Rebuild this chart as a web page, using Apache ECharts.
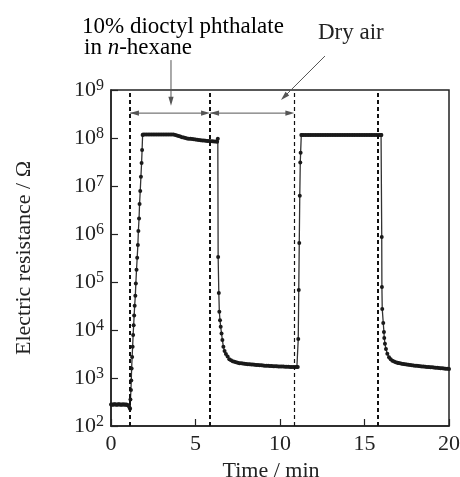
<!DOCTYPE html>
<html>
<head>
<meta charset="utf-8">
<script src="https://cdn.jsdelivr.net/npm/echarts@6/dist/echarts.min.js"></script>
<style>
  html, body { margin: 0; padding: 0; background: #fff; }
  #chart { width: 460px; height: 477px; }
</style>
</head>
<body>
<div id="chart"></div>
<script>
// [time (min), electric resistance (ohm)]
var baseline = [[0,280],[0.05,282],[0.1,278],[0.15,280],[0.2,283],[0.25,279],[0.3,281],[0.35,278],[0.4,280],[0.45,284],
  [0.5,279],[0.55,281],[0.6,277],[0.65,280],[0.7,282],[0.75,279],[0.8,281],[0.85,278],[0.9,280],[0.95,276],
  [1.0,272],[1.05,262],[1.1,240],[1.13,228]]
var rise1 = [[1.15,355],[1.18,560],[1.2,890],[1.22,1580],[1.25,2750],[1.28,4470],[1.31,7900],[1.34,12600],[1.37,20000],
  [1.4,32000],[1.44,52000],[1.47,93000],[1.51,1.8e5],[1.55,3.2e5],[1.59,5.9e5],[1.62,1.15e6],[1.66,2.1e6],[1.69,4.2e6],
  [1.73,7.9e6],[1.77,1.55e7],[1.81,3.0e7],[1.84,5.6e7],[1.87,1.15e8]]
var plateau1 = [[1.9,1.18e8],[2.0,1.18e8],[2.1,1.18e8],[2.2,1.18e8],[2.3,1.18e8],[2.4,1.18e8],[2.5,1.18e8],[2.6,1.18e8],
  [2.7,1.18e8],[2.8,1.18e8],[2.9,1.18e8],[3.0,1.18e8],[3.1,1.18e8],[3.2,1.18e8],[3.3,1.18e8],[3.4,1.18e8],[3.5,1.18e8],
  [3.6,1.18e8],[3.7,1.18e8],[3.8,1.16e8],[3.9,1.13e8],[4.0,1.1e8],[4.1,1.07e8],[4.2,1.04e8],[4.3,1.02e8],[4.4,1.0e8],
  [4.5,9.8e7],[4.6,9.7e7],[4.7,9.6e7],[4.8,9.5e7],[4.9,9.4e7],[5.0,9.3e7],[5.1,9.2e7],[5.2,9.1e7],[5.3,9.0e7],
  [5.4,8.9e7],[5.5,8.9e7],[5.6,8.8e7],[5.7,8.7e7],[5.8,8.7e7],[5.9,8.6e7],[6.0,8.6e7],[6.1,8.5e7],[6.2,8.5e7],
  [6.28,8.4e7],[6.32,9.6e7]]
var drop1 = [[6.34,3.3e5],[6.38,5.9e4],[6.41,2.4e4],[6.45,1.6e4],[6.49,1.17e4],[6.54,8500],[6.59,6200],[6.65,4470],
  [6.72,3630],[6.8,3160],[6.9,2820],[7.0,2450],[7.1,2340],[7.2,2240],[7.3,2190],[7.4,2140],[7.5,2090],[7.6,2040],
  [7.7,2020],[7.8,2000],[7.9,1980],[8.0,1950]]
var tail1 = [[8.1,1940],[8.2,1930],[8.3,1915],[8.4,1900],[8.5,1880],[8.6,1870],[8.7,1860],[8.8,1850],[8.9,1835],
  [9.0,1820],[9.1,1810],[9.2,1800],[9.3,1790],[9.4,1780],[9.5,1770],[9.6,1765],[9.7,1760],[9.8,1750],[9.9,1745],
  [10.0,1740],[10.1,1735],[10.2,1730],[10.3,1725],[10.4,1715],[10.5,1710],[10.6,1705],[10.7,1700],[10.8,1695],
  [10.9,1690],[11.0,1690],[11.05,1690]]
var rise2 = [[11.08,6500],[11.11,6.8e4],[11.14,6.5e5],[11.17,6.3e6],[11.2,3.1e7],[11.22,4.9e7],[11.26,1.15e8]]
var plateau2 = [[11.3,1.16e8],[11.4,1.16e8],[11.5,1.16e8],[11.6,1.16e8],[11.7,1.16e8],[11.8,1.16e8],[11.9,1.16e8],
  [12.0,1.16e8],[12.1,1.16e8],[12.2,1.16e8],[12.3,1.16e8],[12.4,1.16e8],[12.5,1.16e8],[12.6,1.16e8],[12.7,1.16e8],
  [12.8,1.16e8],[12.9,1.16e8],[13.0,1.16e8],[13.1,1.16e8],[13.2,1.16e8],[13.3,1.16e8],[13.4,1.16e8],[13.5,1.16e8],
  [13.6,1.16e8],[13.7,1.16e8],[13.8,1.16e8],[13.9,1.16e8],[14.0,1.16e8],[14.1,1.16e8],[14.2,1.16e8],[14.3,1.16e8],
  [14.4,1.16e8],[14.5,1.16e8],[14.6,1.16e8],[14.7,1.16e8],[14.8,1.16e8],[14.9,1.16e8],[15.0,1.16e8],[15.1,1.16e8],
  [15.2,1.16e8],[15.3,1.16e8],[15.4,1.16e8],[15.5,1.16e8],[15.6,1.16e8],[15.7,1.16e8],[15.8,1.16e8],[15.9,1.16e8],
  [15.98,1.16e8],[16.0,1.15e8]]
var drop2 = [[16.02,8.7e5],[16.03,7.9e4],[16.05,2.75e4],[16.11,1.4e4],[16.15,9100],[16.17,6800],[16.21,5200],
  [16.27,4000],[16.35,3200],[16.45,2700],[16.55,2450],[16.65,2300],[16.75,2200],[16.85,2140],[16.95,2090]]
var tail2 = [[17.0,2050],[17.1,2020],[17.2,1990],[17.3,1960],[17.4,1935],[17.5,1910],[17.6,1890],[17.7,1870],
  [17.8,1850],[17.9,1830],[18.0,1810],[18.1,1790],[18.2,1775],[18.3,1760],[18.4,1745],[18.5,1730],[18.6,1715],
  [18.7,1700],[18.8,1690],[18.9,1680],[19.0,1665],[19.1,1650],[19.2,1640],[19.3,1630],[19.4,1615],[19.5,1600],
  [19.6,1590],[19.7,1575],[19.8,1560],[19.9,1550],[20.0,1540]]

// gas switching times (dashed lines)
var switchTimes = [1.12, 5.86, 10.85, 15.78]
var switchWidths = [2, 2, 1.2, 2]
// double arrows marking the exposure periods: [from, to] in data coords
var periodArrows = [[[1.12, 3.3e8], [5.86, 3.3e8]], [[5.86, 3.3e8], [10.85, 3.3e8]]]
// pointer arrows from the two labels
var pointerArrows = [[[3.55, 4.2e9], [3.55, 4.7e8]], [[12.66, 5.1e9], [10.06, 6.2e8]]]

var serif = 'Liberation Serif'
var allData = [].concat(baseline, rise1, plateau1, drop1, tail1, rise2, plateau2, drop2, tail2)

var chart = echarts.init(document.getElementById('chart'))
var option = {
  animation: false,
  backgroundColor: '#fff',
  grid: {
    left: 111, right: 11, top: 90, bottom: 51,
    outerBoundsMode: 'none',
    show: true, borderColor: '#222', borderWidth: 1.5, backgroundColor: 'transparent'
  },
  xAxis: {
    type: 'value',
    min: 0, max: 20, interval: 5,
    name: 'Time / min',
    nameLocation: 'middle',
    nameGap: 28,
    nameTextStyle: { fontFamily: serif, fontSize: 22, color: '#222', padding: [0, 18, 0, 0] },
    axisLine: { lineStyle: { color: '#222', width: 1.5 } },
    axisTick: { inside: true, length: 7, lineStyle: { color: '#222', width: 1.2 } },
    axisLabel: { margin: 7, fontFamily: serif, fontSize: 22, color: '#222' },
    splitLine: { show: false }
  },
  yAxis: {
    type: 'log',
    logBase: 10,
    min: 100, max: 1e9,
    name: 'Electric resistance / Ω',
    nameLocation: 'middle',
    nameGap: 76,
    nameTextStyle: { fontFamily: serif, fontSize: 22, color: '#222' },
    axisLine: { lineStyle: { color: '#222', width: 1.5 } },
    axisTick: { inside: true, length: 7, lineStyle: { color: '#222', width: 1.2 } },
    axisLabel: {
      margin: 7,
      formatter: function (v) {
        return '{b|10}{s|' + Math.round(Math.log10(v)) + '}'
      },
      rich: {
        b: { fontFamily: serif, fontSize: 22, color: '#222' },
        s: { fontFamily: serif, fontSize: 16, color: '#222', padding: [0, 0, 9, 0] }
      }
    },
    splitLine: { show: false },
    minorTick: { show: false }
  },
  series: [{
    type: 'line',
    data: allData,
    symbol: 'circle',
    symbolSize: 4,
    itemStyle: { color: '#1a1a1a' },
    lineStyle: { color: '#333', width: 1.3 },
    markLine: {
      silent: true,
      symbol: 'none',
      label: { show: false },
      data: switchTimes.map(function (t, i) {
        return { xAxis: t, lineStyle: { color: '#111', type: [4, 3], width: switchWidths[i] } }
      })
    }
  }]
}
chart.setOption(option)

function arrow(from, to, twoHeads) {
  var p0 = chart.convertToPixel({ gridIndex: 0 }, from)
  var p1 = chart.convertToPixel({ gridIndex: 0 }, to)
  var dx = p1[0] - p0[0], dy = p1[1] - p0[1]
  var len = Math.sqrt(dx * dx + dy * dy)
  var ux = dx / len, uy = dy / len
  var hl = 9, hw = 2.6
  var out = []
  function head(p, sx, sy) {
    var bx = p[0] - sx * hl, by = p[1] - sy * hl
    out.push({ type: 'polygon', silent: true,
      shape: { points: [[p[0], p[1]], [bx - sy * hw, by + sx * hw], [bx + sy * hw, by - sx * hw]] },
      style: { fill: '#555' } })
  }
  out.push({ type: 'line', silent: true,
    shape: { x1: p0[0], y1: p0[1], x2: p1[0] - ux * 4, y2: p1[1] - uy * 4 },
    style: { stroke: '#555', lineWidth: 1 } })
  head(p1, ux, uy)
  if (twoHeads) head(p0, -ux, -uy)
  return out
}

var graphics = []
periodArrows.forEach(function (a) { graphics = graphics.concat(arrow(a[0], a[1], true)) })
pointerArrows.forEach(function (a) { graphics = graphics.concat(arrow(a[0], a[1], false)) })
graphics.push({
  type: 'text', left: 82, top: 15, silent: true,
  style: {
    text: '{a|10% dioctyl phthalate}\n{b|in }{i|n}{a|-hexane}',
    rich: {
      a: { fontFamily: serif, fontSize: 23, color: '#222', lineHeight: 21 },
      b: { fontFamily: serif, fontSize: 23, color: '#222', lineHeight: 21, padding: [0, 0, 0, 2] },
      i: { fontFamily: serif, fontSize: 23, fontStyle: 'italic', color: '#222', lineHeight: 21 }
    }
  }
})
graphics.push({
  type: 'text', left: 318, top: 21, silent: true,
  style: { text: 'Dry air', fontFamily: serif, fontSize: 23, fill: '#222' }
})
chart.setOption({ graphic: graphics })
</script>
</body>
</html>
